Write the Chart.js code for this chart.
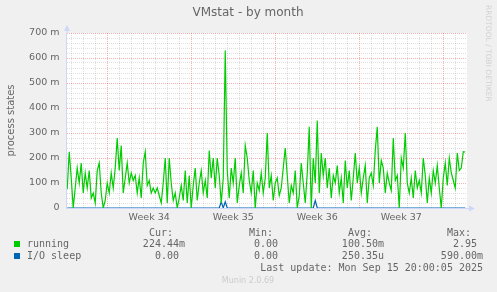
<!DOCTYPE html>
<html>
<head>
<meta charset="utf-8">
<script src="https://cdn.jsdelivr.net/npm/chart.js@4/dist/chart.umd.min.js"></script>
<style>
  body { margin: 0; background: #f0f0f0; }
  #wrap { width: 497px; height: 292px; }
</style>
</head>
<body>
<div id="wrap"><canvas id="vmstat" width="497" height="292"></canvas></div>
<script>
// values in milli-units (m), one sample every 4 hours
const running = [
  75, 225, 120, 0, 80, 160, 100, 180, 60, 140,
  80, 150, 40, 60, 20, 150, 180, 60, 0, 30,
  100, 60, 140, 80, 160, 280, 150, 250, 60, 120,
  180, 100, 140, 110, 130, 60, 120, 40, 180, 225,
  90, 110, 60, 80, 60, 80, 50, 20, 100, 200,
  20, 200, 100, 30, 60, 0, 40, 90, 30, 150,
  20, 130, 0, 90, 160, 30, 100, 150, 60, 110,
  40, 230, 120, 200, 80, 200, 130, 20, 120, 630,
  150, 40, 160, 100, 200, 20, 90, 140, 60, 250,
  200, 110, 60, 150, 0, 100, 70, 140, 60, 120,
  300, 80, 130, 30, 100, 120, 50, 80, 160, 240,
  130, 20, 90, 60, 150, 0, 50, 180, 100, 20,
  140, 325, 0, 200, 100, 350, 60, 220, 130, 200,
  80, 160, 40, 130, 100, 170, 60, 120, 20, 190,
  80, 150, 30, 120, 220, 100, 160, 60, 120, 170,
  20, 120, 140, 90, 230, 325, 100, 190, 160, 60,
  140, 100, 70, 280, 110, 130, 0, 200, 160, 300,
  100, 60, 120, 40, 150, 80, 110, 60, 200, 130,
  20, 120, 60, 150, 100, 170, 80, 0, 120, 180,
  90, 200, 140, 110, 80, 220, 150, 160, 225, 224
];
const ioSleep = running.map(() => 0);
ioSleep[77] = 25;
ioSleep[79] = 25;
ioSleep[124] = 30;

// time axis in days, day 0 = start of week 34
const xStart = -3.33;
const xStep = 1 / 6;
const xMin = -3.39;
const xMax = 29.98;
const weekStarts = [0, 7, 14, 21, 28];
const weekLabels = ['Week 34', 'Week 35', 'Week 36', 'Week 37'];
const yTickLabels = ['0', '100 m', '200 m', '300 m', '400 m', '500 m', '600 m', '700 m'];

const legendRows = [
  { name: 'running', color: '#00cc00', cur: '224.44m', min: '0.00 ', avg: '100.50m', max: '2.95 ' },
  { name: 'I/O sleep', color: '#0066b3', cur: '0.00 ', min: '0.00 ', avg: '250.35u', max: '590.00m' }
];

const toPoints = arr => arr.map((v, i) => ({ x: xStart + i * xStep, y: v }));

const xTicks = [];
for (let d = -3; d <= 29; d++) xTicks.push(d);
weekLabels.forEach((w, i) => xTicks.push(weekStarts[i] + 3.5));
const yTicks = [];
for (let v = 0; v <= 700; v += 20) yTicks.push(v);

const AXIS = '#cfd6f8';
const MGRID = 'rgba(229,0,0,0.3)';
const GRID = 'rgba(143,143,143,0.28)';
const FONT = '#666666';

const munin = {
  id: 'munin',
  beforeDraw(chart) {
    const { ctx, chartArea: a } = chart;
    ctx.save();
    ctx.fillStyle = '#ffffff';
    ctx.fillRect(a.left, a.top, a.right - a.left, a.bottom - a.top);
    ctx.restore();
  },
  afterDraw(chart) {
    const { ctx, chartArea: a } = chart;
    ctx.save();
    // axis arrows
    ctx.strokeStyle = AXIS;
    ctx.fillStyle = AXIS;
    ctx.lineWidth = 1;
    ctx.beginPath();
    ctx.moveTo(a.left + 0.5, a.top);
    ctx.lineTo(a.left + 0.5, a.top - 4);
    ctx.moveTo(a.right, a.bottom + 0.5);
    ctx.lineTo(a.right + 4, a.bottom + 0.5);
    ctx.stroke();
    ctx.beginPath();
    ctx.moveTo(a.left - 2.5, a.top - 2);
    ctx.lineTo(a.left + 3.5, a.top - 2);
    ctx.lineTo(a.left + 0.5, a.top - 8);
    ctx.closePath();
    ctx.fill();
    ctx.beginPath();
    ctx.moveTo(a.right + 2, a.bottom - 2.5);
    ctx.lineTo(a.right + 2, a.bottom + 3.5);
    ctx.lineTo(a.right + 8, a.bottom + 0.5);
    ctx.closePath();
    ctx.fill();

    // title
    ctx.fillStyle = FONT;
    ctx.textBaseline = 'middle';
    ctx.textAlign = 'center';
    ctx.font = '12px "DejaVu Sans"';
    ctx.fillText('VMstat - by month', 248, 13);

    // watermark
    ctx.save();
    ctx.translate(488, 5);
    ctx.rotate(Math.PI / 2);
    ctx.textAlign = 'left';
    ctx.fillStyle = '#d2d2d2';
    ctx.font = '7.5px "DejaVu Sans"';
    ctx.fillText('RRDTOOL / TOBI OETIKER', 0, 0);
    ctx.restore();

    // legend table
    ctx.font = '10px "DejaVu Sans Mono"';
    ctx.textAlign = 'left';
    ctx.fillText('Cur:', 149, 233);
    ctx.fillText('Min:', 249, 233);
    ctx.fillText('Avg:', 348, 233);
    ctx.fillText('Max:', 447, 233);
    legendRows.forEach((r, i) => {
      const y = 244 + i * 12;
      ctx.fillStyle = r.color;
      ctx.fillRect(14, y - 3, 6, 6);
      ctx.fillStyle = FONT;
      ctx.textAlign = 'left';
      ctx.fillText(r.name, 27, y);
      ctx.textAlign = 'right';
      ctx.fillText(r.cur, 185, y);
      ctx.fillText(r.min, 284, y);
      ctx.fillText(r.avg, 384, y);
      ctx.fillText(r.max, 483, y);
    });
    ctx.textAlign = 'right';
    ctx.fillText('Last update: Mon Sep 15 20:00:05 2025', 483, 268);

    ctx.textAlign = 'center';
    ctx.fillStyle = '#cccccc';
    ctx.font = '8px "DejaVu Sans"';
    ctx.fillText('Munin 2.0.69', 248, 281);
    ctx.restore();
  }
};

new Chart(document.getElementById('vmstat'), {
  type: 'line',
  data: {
    datasets: [
      {
        label: 'running',
        data: toPoints(running),
        borderColor: '#00cc00',
        borderWidth: 1.2,
        pointRadius: 0,
        tension: 0,
        fill: false
      },
      {
        label: 'I/O sleep',
        data: toPoints(ioSleep),
        borderColor: '#0066b3',
        borderWidth: 1.2,
        pointRadius: 0,
        tension: 0,
        fill: false
      }
    ]
  },
  options: {
    responsive: false,
    animation: false,
    events: [],
    layout: { padding: { left: 0, top: 33, right: 30, bottom: 64 } },
    plugins: { legend: { display: false }, tooltip: { enabled: false } },
    scales: {
      x: {
        type: 'linear',
        min: xMin,
        max: xMax,
        afterBuildTicks: s => { s.ticks = xTicks.map(v => ({ value: v })); },
        afterFit: s => { s.height = 20; },
        ticks: {
          autoSkip: false,
          maxRotation: 0,
          padding: 4,
          color: FONT,
          font: { family: 'DejaVu Sans', size: 9.5 },
          callback: v => {
            const k = weekStarts.findIndex(w => Math.abs(w + 3.5 - v) < 1e-6);
            return k >= 0 ? weekLabels[k] : '';
          }
        },
        grid: {
          drawTicks: false,
          lineWidth: 1,
          color: c => {
            const v = c.tick.value;
            if (!Number.isInteger(v)) return 'rgba(0,0,0,0)';
            return weekStarts.includes(v) ? MGRID : GRID;
          }
        },
        border: { display: true, color: AXIS, width: 1, dash: [1, 1], z: 1 }
      },
      y: {
        min: 0,
        max: 700,
        afterBuildTicks: s => { s.ticks = yTicks.map(v => ({ value: v })); },
        afterFit: s => { s.width = 66.5; },
        ticks: {
          autoSkip: false,
          padding: 7,
          color: FONT,
          font: { family: 'DejaVu Sans', size: 9.5 },
          callback: v => (v % 100 === 0 ? yTickLabels[v / 100] : '')
        },
        title: {
          display: true,
          text: 'process states',
          color: FONT,
          font: { family: 'DejaVu Sans', size: 10 },
          padding: { top: 5, bottom: 0 }
        },
        grid: {
          drawTicks: false,
          lineWidth: 1,
          color: c => (c.tick.value % 100 === 0 ? MGRID : GRID)
        },
        border: { display: true, color: AXIS, width: 1, dash: [1, 1], z: 1 }
      }
    }
  },
  plugins: [munin]
});
</script>
</body>
</html>
